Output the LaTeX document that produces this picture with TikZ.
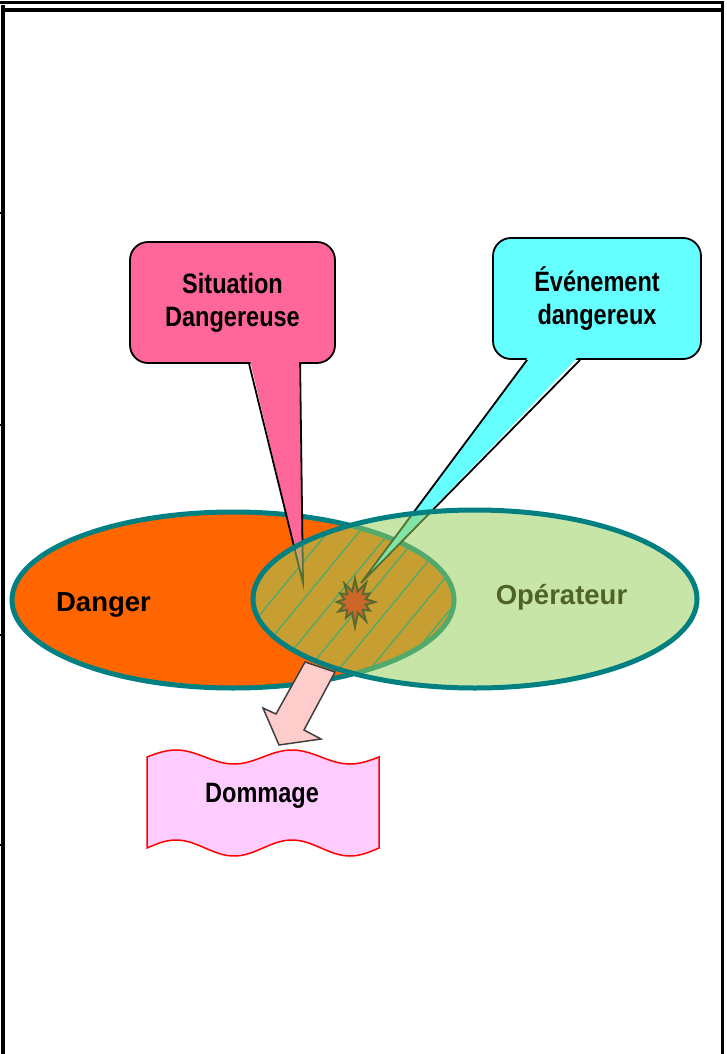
\documentclass[tikz,border=0pt]{standalone}
\usepackage{fontspec}
\setmainfont{Liberation Sans}
\newfontfamily\narrowf[FakeStretch=0.84]{Liberation Sans}
\usetikzlibrary{calc}
\definecolor{tealc}{RGB}{0,128,128}
\definecolor{dangerc}{RGB}{255,102,0}
\definecolor{opc}{RGB}{151,207,92}
\definecolor{pinkc}{RGB}{255,102,153}
\definecolor{cyanc}{RGB}{102,255,255}
\definecolor{domc}{RGB}{255,204,255}
\definecolor{arrowc}{RGB}{255,204,204}
\definecolor{arrowline}{RGB}{64,64,64}
\definecolor{starc}{RGB}{205,102,41}
\definecolor{starline}{RGB}{85,107,47}
\definecolor{optext}{RGB}{79,98,40}
\tikzset{
  frameline/.style={black, line width=3.5pt},
  setline/.style={tealc, line width=5pt},
  callbox/.style={draw=black, line width=1.8pt, rounded corners=18pt, inner sep=0pt,
    align=center, font=\narrowf\bfseries\fontsize{28}{33}\selectfont},
  callptr/.style={black, line width=1.8pt, line join=miter},
  bigtext/.style={font=\bfseries\fontsize{27.5}{30}\selectfont, anchor=base, inner sep=0pt},
  domtext/.style={font=\narrowf\bfseries\fontsize{28}{33}\selectfont, anchor=base, inner sep=0pt},
}
\begin{document}
\begin{tikzpicture}[x=1pt,y=-1pt]
\useasboundingbox (0,0) rectangle (726,1054);
% frame
\draw[black, line width=3pt] (0,3) -- (724,3);
\draw[frameline] (3,5) -- (3,1054);
\draw[frameline] (3,10) -- (722.5,10);
\draw[frameline] (722.5,3) -- (722.5,1054);
\foreach \t in {213,425,635,845} \draw[black, line width=1.5pt] (0,\t) -- (4,\t);

% Danger ellipse
\fill[dangerc] (233,600) ellipse [x radius=221pt, y radius=88pt];
\draw[setline] (233,600) ellipse [x radius=221pt, y radius=88pt];

% hatching of the intersection
\begin{scope}
  \clip (233,600) ellipse [x radius=221pt, y radius=88pt];
  \clip (475,599) ellipse [x radius=222pt, y radius=89pt];
  \foreach \k in {-4,...,8}
    \draw[tealc, line width=1.4pt] ({272+31*\k-110},733.6) -- ({272+31*\k+110},466.4);
\end{scope}

% callout: Situation Dangereuse
\node[callbox, fill=pinkc, minimum width=205pt, minimum height=121pt] (sit) at (232.5,302.5) {Situation\\Dangereuse};
\coordinate (sittip) at (303,583);
\fill[pinkc] ($(sit.south west)+(121,-3)$) -- (sittip) -- ($(sit.south west)+(170,-3)$) -- cycle;
\draw[callptr] ($(sit.south west)+(120,0)$) -- (sittip) -- ($(sit.south west)+(171,0)$);

% callout: Evenement dangereux
\node[callbox, fill=cyanc, minimum width=208pt, minimum height=121pt] (evt) at (597,298.5) {Événement\\dangereux};
\coordinate (evttip) at (361,583);
\fill[cyanc] ($(evt.south west)+(36,-3)$) -- (evttip) -- ($(evt.south west)+(86,-3)$) -- cycle;
\draw[callptr] ($(evt.south west)+(35,0)$) -- (evttip) -- ($(evt.south west)+(88,0)$);

% block arrow to Dommage
\draw[fill=arrowc, draw=arrowline, line width=1.5pt, line join=miter]
  (305,662) -- (335,672) -- (304,730) -- (321,739) -- (279,745) -- (263,708) -- (276,714) -- cycle;

% Operateur ellipse (semi-transparent)
\fill[opc, opacity=0.54] (475,599) ellipse [x radius=222pt, y radius=89pt];
\draw[setline] (475,599) ellipse [x radius=222pt, y radius=89pt];

% explosion star
\begin{scope}[shift={(355,602)}]
\draw[fill=starc, draw=starline, line width=2pt, line join=miter]
  (0:20) -- (15:11) -- (30:17) -- (45:11) -- (60:22) -- (75:11) -- (90:25) -- (105:11)
  -- (120:18) -- (135:11) -- (150:19) -- (165:11) -- (180:18) -- (195:11) -- (210:17)
  -- (225:11) -- (240:21) -- (255:11) -- (270:23) -- (285:11) -- (300:22) -- (315:11)
  -- (330:17) -- (345:11) -- cycle;
\end{scope}

% labels of the sets
\node[bigtext, text=black] (dangerlbl) at (103.5,611) {Danger};
\node[bigtext, text=optext] (oplbl) at (561.5,604) {Opérateur};

% Dommage banner
\draw[fill=domc, draw=red, line width=1.5pt]
  plot[domain=0:232, samples=80] ({147+\x},{757-7*sin(\x/116*360)})
  -- plot[domain=232:0, samples=80] ({147+\x},{848-8*sin(\x/116*360)}) -- cycle;
\node[domtext] (dom) at (262,802) {Dommage};
\end{tikzpicture}
\end{document}
